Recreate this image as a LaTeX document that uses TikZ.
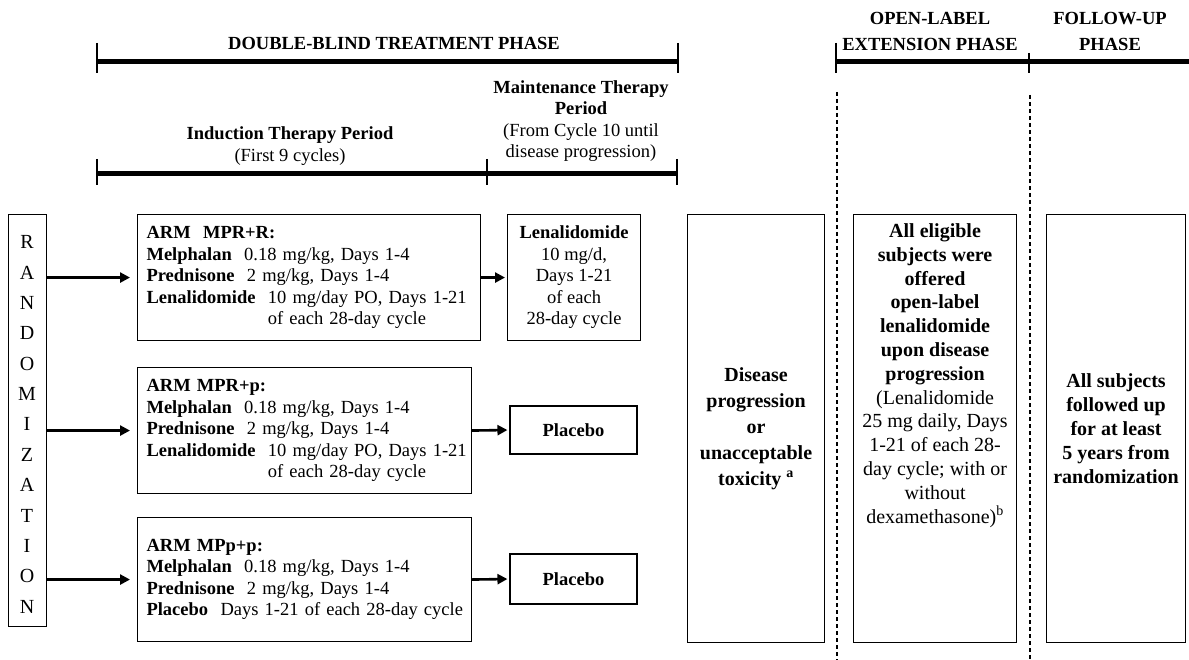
\documentclass[tikz,border=0pt]{standalone}
\usepackage{fontspec}
\setmainfont{Liberation Serif}
\usetikzlibrary{arrows.meta}
\begin{document}
\begin{tikzpicture}[x=1pt,y=-1pt,
    box/.style={draw,line width=1.1pt,inner sep=0pt,align=center},
    armbox/.style={box,align=left,inner xsep=9pt,inner ysep=0pt,minimum height=126pt,anchor=north west,font=\fontsize{18.5}{21.5}\selectfont},
    sidebox/.style={box,minimum width=#1,minimum height=428pt,anchor=north west},
    sm/.style={font=\fontsize{18.5}{21.5}\selectfont},
    smb/.style={font=\fontsize{18.5}{21.5}\selectfont\bfseries},
    arr/.style={line width=2.6pt,-{Triangle[length=10pt,width=10pt]}},
    phasebar/.style={line width=5pt},
    phasetick/.style={line width=1.2pt},
    divider/.style={line width=1.1pt,dash pattern=on 4pt off 3pt}]
    \useasboundingbox (0,0) rectangle (1189,660);

    % phase headers
    \node[smb] (hdrDB) at (394,43) {DOUBLE-BLIND TREATMENT PHASE};
    \draw[phasebar] (97,62) -- (678,62);
    \draw[phasetick] (97,43) -- (97,73); \draw[phasetick] (678,43) -- (678,73);

    \node[smb,align=center,font=\fontsize{18.5}{26}\selectfont\bfseries] (hdrOL) at (930,31) {OPEN-LABEL\\EXTENSION PHASE};
    \node[smb,align=center,font=\fontsize{18.5}{26}\selectfont\bfseries] (hdrFU) at (1110,31) {FOLLOW-UP\\PHASE};
    \draw[phasebar] (836,62) -- (1189,62);
    \draw[phasetick] (836,43) -- (836,73); \draw[phasetick] (1029,53) -- (1029,73);

    % period headers
    \node[sm,align=center] (hdrIT) at (290,146) {\textbf{Induction Therapy Period}\\(First 9 cycles)};
    \node[sm,align=center] (hdrMT) at (581,121) {\textbf{Maintenance Therapy}\\\textbf{Period}\\(From Cycle 10 until\\disease progression)};
    \draw[phasebar] (97,174) -- (677,174);
    \foreach \x in {97,487,677} \draw[phasetick] (\x,159) -- (\x,185);

    % dashed dividers
    \draw[divider] (837,92) -- (837,660);
    \draw[divider] (1030,95) -- (1030,660);

    % randomization
    \node[box,minimum width=38pt,minimum height=412pt,anchor=north west] (rand) at (8,214) {};
    \foreach \ltr [count=\i from 0] in {R,A,N,D,O,M,I,Z,A,T,I,O,N}
        \node[font=\fontsize{20}{24}\selectfont] (rl\i) at (27,{242+30.4*\i}) {\ltr};

    % arms
    \node[armbox,text width=325pt] (armA) at (137,214) {\textbf{ARM\ \ MPR+R:}\\
        \textbf{Melphalan}\ \ 0.18 mg/kg, Days 1-4\\
        \textbf{Prednisone}\ \ 2 mg/kg, Days 1-4\\
        \mbox{\textbf{Lenalidomide}\ \ 10 mg/day PO, Days 1-21}\\
        \phantom{\textbf{Lenalidomide}\ \ }of each 28-day cycle};
    \node[armbox,text width=316pt] (armB) at (137,367) {\textbf{ARM MPR+p:}\\
        \textbf{Melphalan}\ \ 0.18 mg/kg, Days 1-4\\
        \textbf{Prednisone}\ \ 2 mg/kg, Days 1-4\\
        \mbox{\textbf{Lenalidomide}\ \ 10 mg/day PO, Days 1-21}\\
        \phantom{\textbf{Lenalidomide}\ \ }of each 28-day cycle};
    \node[armbox,text width=316pt,minimum height=124pt] (armC) at (137,517) {\textbf{ARM MPp+p:}\\
        \textbf{Melphalan}\ \ 0.18 mg/kg, Days 1-4\\
        \textbf{Prednisone}\ \ 2 mg/kg, Days 1-4\\
        \mbox{\textbf{Placebo}\ \ Days 1-21 of each 28-day cycle}};

    % maintenance
    \node[box,sm,minimum width=133pt,minimum height=126pt,anchor=north west] (maintA) at (507,214) {\textbf{Lenalidomide}\\10 mg/d,\\Days 1-21\\of each\\28-day cycle};
    \node[box,smb,minimum width=127pt,minimum height=48pt] (maintB) at (573.5,430) {Placebo};
    \node[box,smb,minimum width=127pt,minimum height=50pt] (maintC) at (573.5,579) {Placebo};

    \draw[arr,shorten >=7pt] (rand.east |- armA.west) -- (armA.west);
    \draw[arr,shorten >=7pt] (rand.east |- armB.west) -- (armB.west);
    \draw[arr,shorten >=7pt] (rand.east |- armC.west) -- (armC.west);
    \draw[arr,shorten >=2pt] (armA.east) -- (maintA.west);
    \draw[arr,shorten >=2pt] (armB.east) -- (maintB.west);
    \draw[arr,shorten >=2pt] (armC.east) -- (maintC.west);

    % later phases
    \node[sidebox=137pt,font=\fontsize{20}{26}\selectfont\bfseries] (prog) at (687,214) {Disease\\progression\\or\\unacceptable\\toxicity~\textsuperscript{a}};
    \node[sidebox=163pt,font=\fontsize{20}{23.8}\selectfont] (openlbl) at (853,214) {\parbox[t][410pt][t]{160pt}{\centering
        \textbf{All eligible\\subjects were\\offered\\open-label\\lenalidomide\\upon disease\\progression}\\
        (Lenalidomide\\25 mg daily, Days\\1-21 of each 28-\\day cycle; with or\\without\\dexamethasone)\textsuperscript{b}}};
    \node[sidebox=139pt,font=\fontsize{20}{24}\selectfont\bfseries] (follow) at (1046,214) {All subjects\\followed up\\for at least\\5 years from\\randomization};
\end{tikzpicture}
\end{document}
